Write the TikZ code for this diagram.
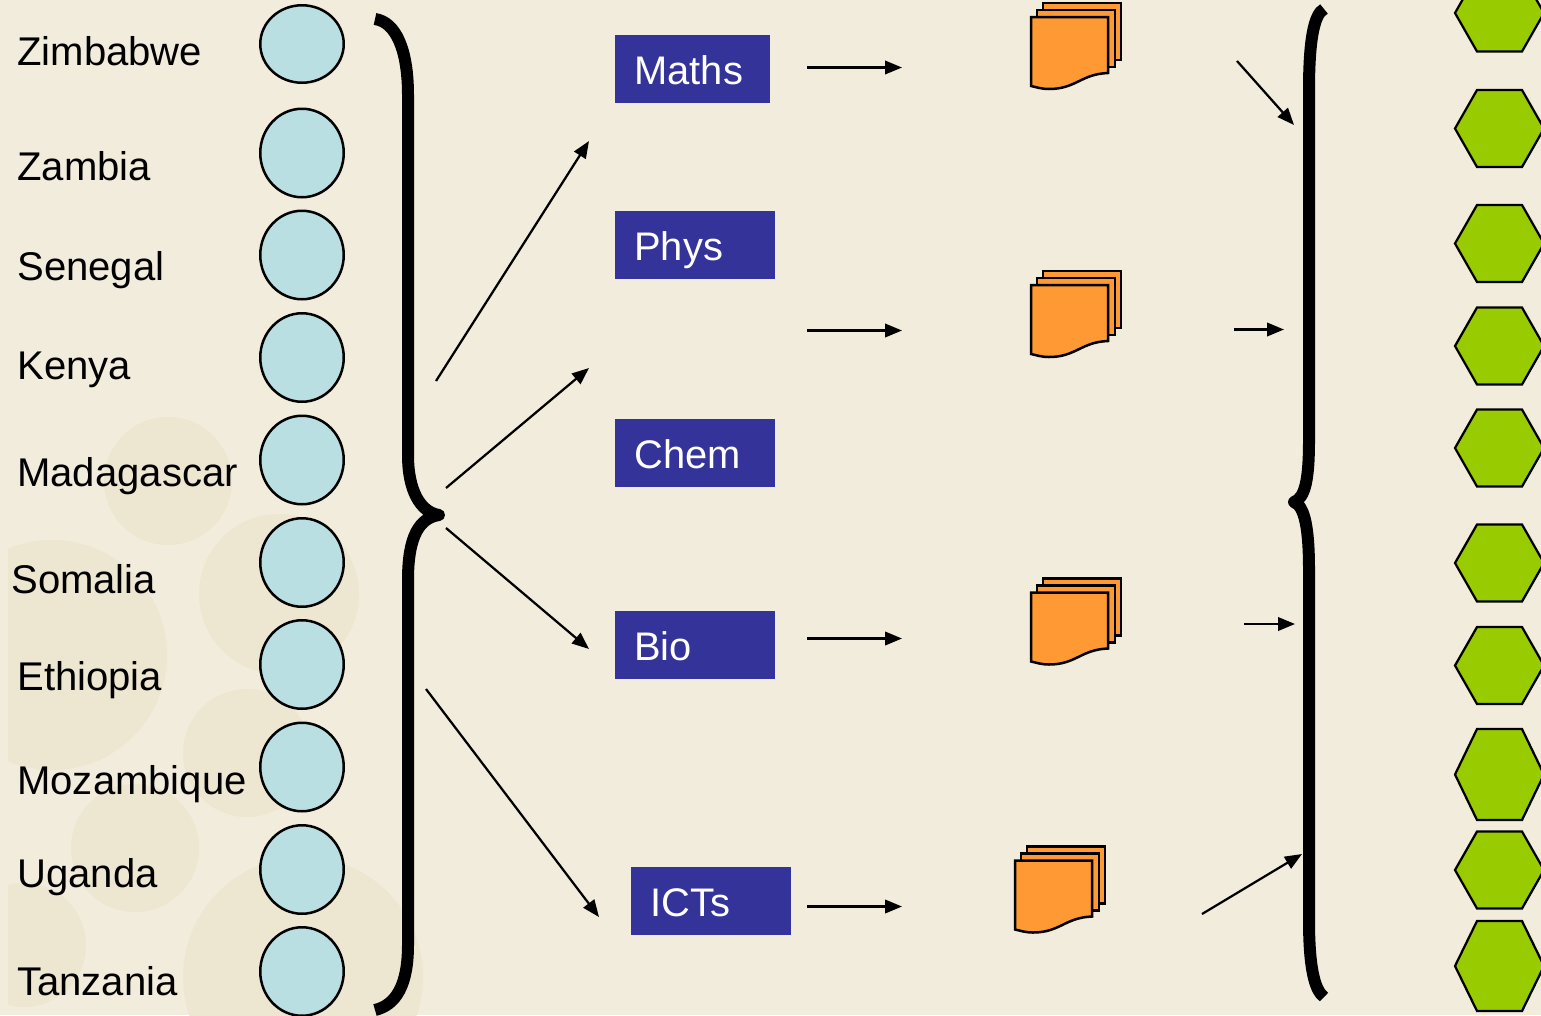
\documentclass[tikz,border=0pt]{standalone}
\usepackage{fontspec}
\setmainfont{Liberation Sans}
\usetikzlibrary{arrows.meta,shapes.geometric}

\definecolor{paper}{HTML}{F2ECDC}
\definecolor{blob}{HTML}{EDE6D0}
\definecolor{country}{HTML}{B9DFE2}
\definecolor{subject}{HTML}{333399}
\definecolor{sheet}{HTML}{FF9933}
\definecolor{result}{HTML}{99CC00}

\tikzset{
	label/.style={anchor=base west,inner sep=0pt,font=\fontsize{22.8}{27}\selectfont},
	dot/.style={ellipse,draw,fill=country,line width=0.05cm,inner sep=0pt,minimum width=1.67cm},
	subjectbox/.style={anchor=north west,fill=subject,text=white,inner xsep=0.38cm,inner ysep=0pt,
		minimum height=1.36cm,text height=0.6cm,text depth=0pt,align=left,font=\fontsize{22.7}{27}\selectfont},
	brace/.style={line width=0.24cm,line join=round},
	flow/.style={-{Triangle[length=0.34cm,width=0.27cm]},line width=0.045cm},
	docstack/.pic={
		\draw[fill=sheet,line width=0.05cm] (12,-14) rectangle (90,43);
		\draw[fill=sheet,line width=0.05cm] (6,-7) rectangle (84,50);
		\draw[fill=sheet,line width=0.05cm] (0,0) -- (77,0) -- (77,56)
			.. controls (50,57) and (45,72) .. (18,72) .. controls (10,72) and (5,70) .. (0,69) -- cycle;
	}
}

\begin{document}
\begin{tikzpicture}[x=0.02cm,y=-0.02cm]
	\useasboundingbox (0,0) rectangle (1541,1015);
	\fill[paper] (0,0) rectangle (1541,1015);

	% background
	\begin{scope}
		\clip (8,0) rectangle (1541,1015);
		\foreach \bx/\by/\br in {168/481/64,279/594/80,52/655/115,247/753/64,135/848/64,24/945/62,303/977/120}
			\fill[blob] (\bx,\by) circle ({\br*0.02cm});
	\end{scope}

	% countries
	\foreach \name/\lx/\ly/\cy/\ch in {Zimbabwe/17/65/44/1.55,Zambia/17/180/153/1.77,Senegal/17/280/255/1.77,Kenya/17/379/357.5/1.77,
		Madagascar/17/486/460/1.77,Somalia/11/593/562.5/1.77,Ethiopia/17/690/664.5/1.77,Mozambique/17/794/767/1.77,Uganda/17/887/869.5/1.77,Tanzania/17/995/971.5/1.77}
	{
		\node[label] (l\name) at (\lx,\ly) {\name};
		\node[dot,minimum height=\ch cm] (c\name) at (302,\cy) {};
	}

	\draw[brace] (375,19) .. controls (396,22) and (408,50) .. (408,95) -- (408,455)
		.. controls (408,490) and (420,512) .. (439,515) .. controls (420,518) and (408,535) .. (408,580)
		-- (408,945) .. controls (408,985) and (396,1005) .. (375,1010);

	% subjects
	\node[subjectbox,text width=2.34cm] (maths) at (615,35) {Maths};
	\node[subjectbox,text width=2.44cm] (phys) at (615,211) {Phys};
	\node[subjectbox,text width=2.44cm] (chem) at (615,419) {Chem};
	\node[subjectbox,text width=2.44cm] (bio) at (615,611) {Bio};
	\node[subjectbox,text width=2.44cm] (icts) at (631,867) {ICTs};

	% papers
	\pic at (1031,17) {docstack};
	\pic at (1031,285) {docstack};
	\pic at (1031,592.5) {docstack};
	\pic at (1015,860.5) {docstack};

	% arrows
	\foreach \name/\ax/\ay/\bx/\by in {fa/436/381/589/141,fb/446/488/589/368,fc/446/528/589/649,fd/426/689/599/917,
		ga/807/67.5/902/67.5,gb/807/330.5/902/330.5,gc/807/638.5/902/638.5,gd/807/906.5/902/906.5,
		ha/1237/61/1294/125,hb/1234/329.5/1284/329.5,hc/1244/624/1295/624,hd/1202/914/1302/854}
	{
		\coordinate (\name s) at (\ax,\ay);
		\coordinate (\name e) at (\bx,\by);
		\draw[flow] (\name s) -- (\name e);
	}

	\draw[brace] (1324,9) .. controls (1314,14) and (1309,40) .. (1309,90) -- (1309,440)
		.. controls (1309,480) and (1305,498) .. (1294,502) .. controls (1305,506) and (1309,530) .. (1309,570)
		-- (1309,920) .. controls (1309,965) and (1314,990) .. (1324,997);

	% results
	\foreach \hy/\hr in {13/38.5,128.5/38.5,243.5/38.5,346/38.5,448/38.5,563/38.5,665.5/38.5,774.5/45.5,870/38.5,966/45}
		\draw[fill=result,line width=0.045cm] (1455,\hy) -- (1477,\hy-\hr) -- (1522,\hy-\hr) -- (1544,\hy)
			-- (1522,\hy+\hr) -- (1477,\hy+\hr) -- cycle;
\end{tikzpicture}
\end{document}
